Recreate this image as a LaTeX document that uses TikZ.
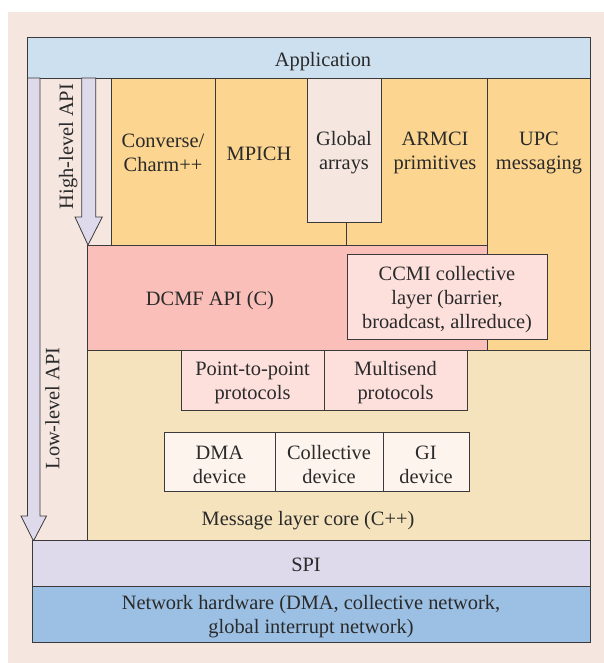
\documentclass[tikz,border=0pt]{standalone}
\usepackage{fontspec}
\setmainfont{Liberation Serif}
\usetikzlibrary{fit}
\definecolor{bgpink}{HTML}{F5E6E0}
\definecolor{appblue}{HTML}{CDE0F0}
\definecolor{orangeC}{HTML}{FCD590}
\definecolor{lavC}{HTML}{DEDAEC}
\definecolor{dcmfC}{HTML}{F9BFB8}
\definecolor{lightpink}{HTML}{FDE0DC}
\definecolor{coreC}{HTML}{F5E3BD}
\definecolor{devC}{HTML}{FEF4EE}
\definecolor{netC}{HTML}{9BC0E4}
\definecolor{lineC}{HTML}{3A3A3A}
\definecolor{textC}{HTML}{2A2A2A}
\begin{document}
\begin{tikzpicture}[x=1pt,y=-1pt,line width=0.8pt,
  box/.style={draw=lineC,inner sep=0pt,outer sep=0pt},
  rtxt/.style={inner sep=0pt,text=textC,align=center,font=\fontsize{20.4}{24}\selectfont,rotate=90},
  txt/.style={inner sep=0pt,text=textC,align=center,font=\fontsize{20.4}{24}\selectfont,yshift=-3pt},
  arr/.style={draw=lineC,fill=lavC,line join=miter}]
\useasboundingbox[fill=white] (0,0) rectangle (604,663);
\fill[bgpink] (8,12) rectangle (604,663);
% application
\node[box,fill=appblue,fit={(27,37)(590,78)}] (app) {};
\node[txt] (apptxt) at (323,58.5) {Application};
% arrows
\draw[arr] (27.5,78) -- (40,78) -- (40,516) -- (46.5,516) -- (33.5,541) -- (21,516) -- (27.5,516) -- cycle;
\draw[arr] (81.7,78) -- (95.7,78) -- (95.7,217) -- (102.3,217) -- (88,245) -- (75,217) -- (81.7,217) -- cycle;
\node[rtxt] (high) at (68.3,146.5) {High-level API};
\node[rtxt] (low) at (52.5,408.5) {Low-level API};
% orange boxes
\node[box,fill=orangeC,fit={(111,78)(215,245)}] (conv) {};
\node[box,fill=orangeC,fit={(215,78)(346,245)}] (mpich) {};
\node[box,fill=orangeC,fit={(346,78)(487,245)}] (armci) {};
\node[box,fill=bgpink,fit={(307,78)(381,222)}] (ga) {};
\node[txt] (convtxt) at (163,150) {Converse/\\Charm++};
\node[txt] (mpichtxt) at (259,151) {MPICH};
\node[txt] (gatxt) at (344,150) {Global\\arrays};
\node[txt] (armcitxt) at (435,150) {ARMCI\\primitives};
\node[box,fill=orangeC,fit={(487,78)(590,350)}] (upc) {};
\node[txt] (upctxt) at (539,150) {UPC\\messaging};
% DCMF
\node[box,fill=dcmfC,fit={(87,245)(487,350)}] (dcmf) {};
\node[txt] (dcmftxt) at (210,298) {DCMF API (C)};
\node[box,fill=lightpink,fit={(347,254)(547,339)}] (ccmi) {};
\node[txt] (ccmitxt) at (ccmi.center) {CCMI collective\\layer (barrier,\\broadcast, allreduce)};
% message layer core
\node[box,fill=coreC,fit={(87,350)(590,540)}] (core) {};
\node[txt] (coretxt) at (308,518) {Message layer core (C++)};
\node[box,fill=lightpink,fit={(181,350)(324,410)}] (p2p) {};
\node[box,fill=lightpink,fit={(324,350)(467,410)}] (msend) {};
\node[txt] at (p2p.center) {Point-to-point\\protocols};
\node[txt] at (msend.center) {Multisend\\protocols};
\node[box,fill=devC,fit={(164,432)(275,491)}] (dma) {};
\node[box,fill=devC,fit={(275,432)(383,491)}] (coll) {};
\node[box,fill=devC,fit={(383,432)(469,491)}] (gi) {};
\node[txt] at (dma.center) {DMA\\device};
\node[txt] at (coll.center) {Collective\\device};
\node[txt] at (gi.center) {GI\\device};
% SPI and network
\node[box,fill=lavC,fit={(32,540)(590,586)}] (spi) {};
\node[txt] at (306,561.5) {SPI};
\node[box,fill=netC,fit={(32,586)(590,642)}] (net) {};
\node[txt] (nettxt) at (311,614) {Network hardware (DMA, collective network,\\global interrupt network)};
\end{tikzpicture}
\end{document}
